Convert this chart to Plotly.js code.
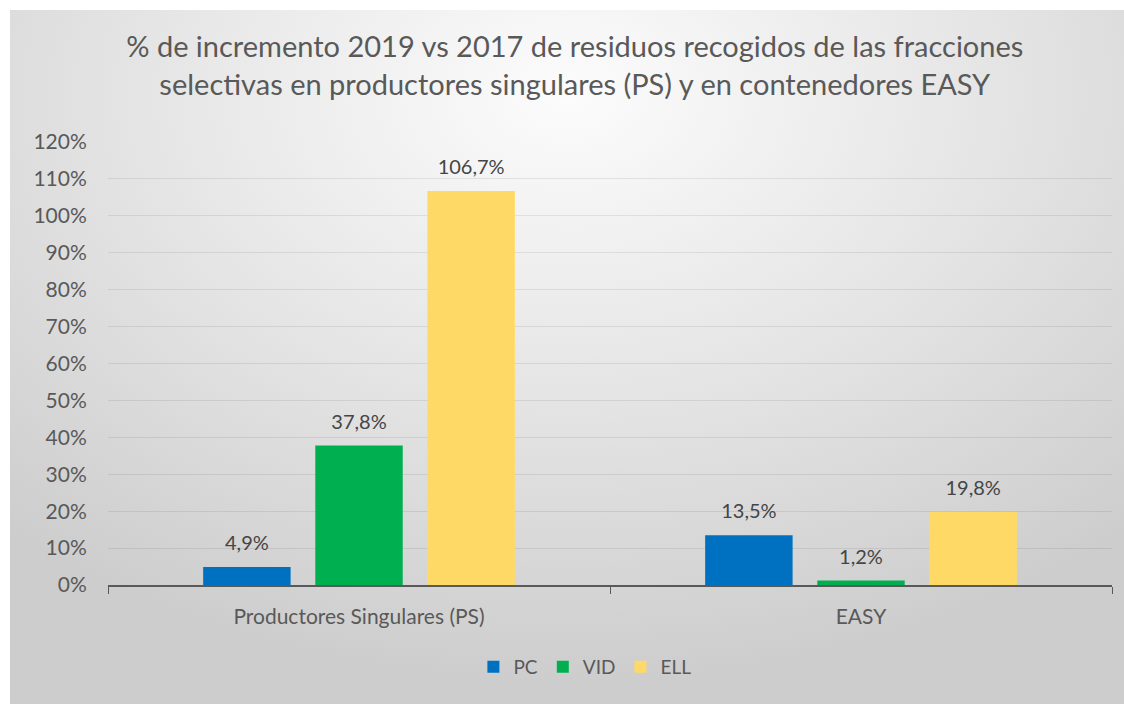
<!DOCTYPE html>
<html>
<head>
<meta charset="utf-8">
<script src="https://cdn.plot.ly/plotly-3.0.1.min.js"></script>
<style>
  body { margin: 0; background: #ffffff; }
  #grafico {
    position: absolute; left: 10px; top: 10px; width: 1114px; height: 694px;
    background: radial-gradient(ellipse 75% 85% at 50% 12%, #fcfcfc 0%, #e3e3e3 55%, #cdcdcd 100%);
  }
</style>
</head>
<body>
<div id="grafico"></div>
<script>
"use strict";

// categorias y valores (fraccion, 1 = 100%)
var categorias = ['Productores Singulares (PS)', 'EASY'];
var series = ['PC', 'VID', 'ELL'];
var valores_pc = [0.049, 0.135];
var valores_vid = [0.378, 0.012];
var valores_ell = [1.067, 0.198];
var colores = ['#0070C0', '#00B050', '#FFD966'];

var fuente = 'Lato, "Noto Sans", sans-serif';

function barra(nombre, valores, color) {
  return {
    type: 'bar',
    name: nombre,
    x: categorias,
    y: valores,
    marker: { color: color },
    // la fuente base pequeña deja un hueco corto entre etiqueta y barra
    texttemplate: '<span style="font-size:20px">%{y:.1%}</span><br> ',
    textposition: 'outside',
    cliponaxis: false,
    textfont: { family: fuente, size: 9, color: '#454545' },
    hoverinfo: 'none'
  };
}

var data = [
  barra(series[0], valores_pc, colores[0]),
  barra(series[1], valores_vid, colores[1]),
  barra(series[2], valores_ell, colores[2])
];

var layout = {
  width: 1114,
  height: 694,
  separators: ',.',
  paper_bgcolor: 'rgba(0,0,0,0)',
  plot_bgcolor: 'rgba(0,0,0,0)',
  font: { family: fuente, color: '#595959' },
  margin: { l: 98, r: 12, t: 132, b: 119 },
  title: {
    text: '% de incremento 2019 vs 2017 de residuos recogidos de las fracciones<br>selectivas en productores singulares (PS) y en contenedores EASY',
    font: { family: fuente, size: 29, color: '#595959' },
    x: 0.507,
    xanchor: 'center',
    y: 0.932,
    yanchor: 'top'
  },
  barmode: 'group',
  bargap: 0.33,
  bargroupgap: 0.22,
  xaxis: {
    type: 'category',
    showline: true,
    linecolor: '#595959',
    linewidth: 1.5,
    ticks: 'outside',
    tickson: 'boundaries',
    ticklen: 7,
    tickcolor: '#595959',
    ticklabelstandoff: 12,
    tickfont: { family: fuente, size: 21, color: '#595959' },
    showgrid: false
  },
  yaxis: {
    range: [0, 1.2],
    dtick: 0.1,
    tickformat: '.0%',
    tickfont: { family: fuente, size: 21, color: '#595959' },
    gridcolor: 'rgba(0,0,0,0.08)',
    gridwidth: 1,
    zeroline: false,
    ticklen: 16,
    ticks: 'outside',
    tickcolor: 'rgba(0,0,0,0)'
  },
  legend: {
    orientation: 'h',
    x: 0.475,
    xanchor: 'center',
    y: -0.185,
    yanchor: 'middle',
    font: { family: fuente, size: 19, color: '#595959' },
    itemwidth: 30,
    traceorder: 'normal'
  }
};

Plotly.newPlot('grafico', data, layout, { displayModeBar: false, staticPlot: true });
</script>
</body>
</html>
